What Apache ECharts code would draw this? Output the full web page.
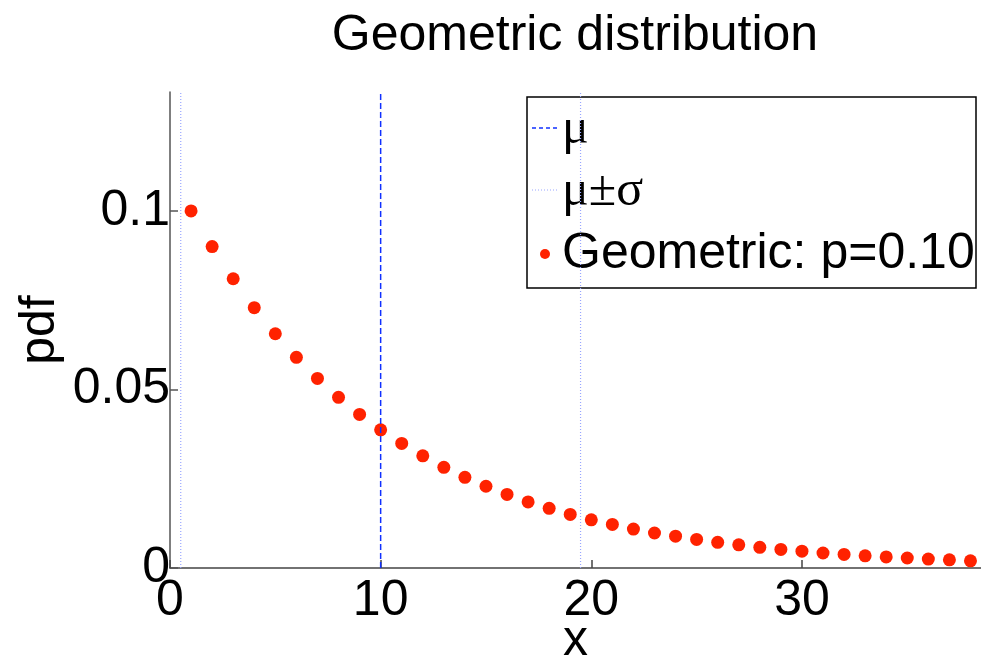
<!DOCTYPE html>
<html>
<head>
<meta charset="utf-8">
<script src="https://cdn.jsdelivr.net/npm/echarts@6/dist/echarts.min.js"></script>
<style>html,body{margin:0;padding:0;background:#fff}#c{width:981px;height:656px}</style>
</head>
<body>
<div id="c"></div>
<script>
// ---- data ----
const xValues = [1,2,3,4,5,6,7,8,9,10,11,12,13,14,15,16,17,18,19,20,21,22,23,24,25,26,27,28,29,30,31,32,33,34,35,36,37,38];
const pdfValues = [0.1000,0.0900,0.0810,0.0729,0.0656,0.0590,0.0531,0.0478,0.0430,0.0387,
  0.0349,0.0314,0.0282,0.0254,0.0229,0.0206,0.0185,0.0167,0.0150,0.0135,
  0.0122,0.0109,0.0098,0.0089,0.0080,0.0072,0.0065,0.0058,0.0052,0.0047,
  0.0042,0.0038,0.0034,0.0031,0.0028,0.0025,0.0023,0.0020];
const muValue = 10;
const sigmaValue = 9.49;
const xTicks = [0, 10, 20, 30];
const yTicks = [0, 0.05, 0.1];
const xLimits = [0, 38.5];
const yLimits = [0, 0.1333];
const titleText = 'Geometric distribution';
const legendLabels = ['μ', 'μ±σ', 'Geometric: p=0.10'];

const sans = 'Liberation Sans';
const FS = 50;
const chart = echarts.init(document.getElementById('c'), null, {renderer: 'canvas'});

function vline(x) { return [[x, yLimits[0]], [x, yLimits[1]]]; }

const option = {
  backgroundColor: '#ffffff',
  animation: false,
  grid: {left: 170, right: 0, top: 92, bottom: 88, containLabel: false, outerBoundsMode: 'none'},
  xAxis: {
    type: 'value', min: xLimits[0], max: xLimits[1], interval: xTicks[1] - xTicks[0],
    name: 'x', nameLocation: 'middle', nameGap: 48, nameMoveOverlap: false,
    nameTextStyle: {fontFamily: sans, fontSize: FS, color: '#000'},
    axisLine: {show: true, onZero: false, lineStyle: {color: '#444', width: 1.5}},
    axisTick: {show: true, inside: true, length: 8, lineStyle: {color: '#444', width: 1.5}},
    axisLabel: {fontFamily: sans, fontSize: FS, color: '#000', margin: 8, showMaxLabel: false,
      formatter: v => xTicks.indexOf(v) >= 0 ? String(v) : ''},
    splitLine: {show: false}
  },
  yAxis: {
    type: 'value', min: yLimits[0], max: yLimits[1], interval: yTicks[1] - yTicks[0],
    name: 'pdf', nameLocation: 'middle', nameGap: 105, nameRotate: 90, nameMoveOverlap: false,
    nameTextStyle: {fontFamily: sans, fontSize: FS, color: '#000'},
    axisLine: {show: true, onZero: false, lineStyle: {color: '#555', width: 1.5}},
    axisTick: {show: true, inside: true, length: 8, lineStyle: {color: '#555', width: 1.5}},
    axisLabel: {fontFamily: sans, fontSize: FS, color: '#000', margin: 0, showMaxLabel: false,
      formatter: v => {
        const hit = yTicks.find(t => Math.abs(t - v) < 1e-9);
        return hit === undefined ? '' : String(hit);
      }},
    splitLine: {show: false}
  },
  series: [
    {name: legendLabels[0], type: 'line', data: vline(muValue), symbol: 'none', silent: true,
      lineStyle: {color: '#1030ff', width: 1.5, type: [6, 3]}},
    {name: legendLabels[1], type: 'line', data: vline(muValue - sigmaValue), symbol: 'none', silent: true,
      lineStyle: {color: '#99a6ff', width: 1.2, type: [1, 2]}},
    {name: legendLabels[1] + ' ', type: 'line', data: vline(muValue + sigmaValue), symbol: 'none', silent: true,
      lineStyle: {color: '#99a6ff', width: 1.2, type: [1, 2]}},
    {name: legendLabels[2], type: 'scatter', symbol: 'circle', symbolSize: 13,
      itemStyle: {color: '#ff2200', opacity: 1},
      data: xValues.map((x, i) => [x, pdfValues[i]])}
  ],
  graphic: [
    {type: 'text', x: 575, y: 36, z: 10,
      style: {text: titleText, x: 0, y: 0, align: 'center', verticalAlign: 'middle', fontFamily: sans, fontSize: FS, fill: '#000'}},
    {type: 'group', x: 527, y: 97, z: 20, children: [
      {type: 'rect', shape: {x: 0, y: 0, width: 449, height: 191},
        style: {fill: '#fff', stroke: '#000', lineWidth: 1.5}},
      {type: 'line', shape: {x1: 5, y1: 31, x2: 30, y2: 31},
        style: {stroke: '#1030ff', lineWidth: 1.5, lineDash: [4, 3]}},
      {type: 'text', style: {x: 35, y: 33, text: legendLabels[0], verticalAlign: 'middle',
        fontFamily: 'Liberation Serif', fontSize: FS, fill: '#000'}},
      {type: 'line', shape: {x1: 5, y1: 93, x2: 30, y2: 93},
        style: {stroke: '#99a6ff', lineWidth: 1.2, lineDash: [1, 2]}},
      {type: 'text', style: {x: 35, y: 95, text: legendLabels[1], verticalAlign: 'middle',
        fontFamily: 'Liberation Serif', fontSize: FS, fill: '#000'}},
      {type: 'circle', shape: {cx: 18, cy: 157, r: 5}, style: {fill: '#ff2200'}},
      {type: 'text', style: {x: 35, y: 157, text: legendLabels[2], verticalAlign: 'middle',
        fontFamily: sans, fontSize: FS, fill: '#000'}}
    ]}
  ]
};
chart.setOption(option);
</script>
</body>
</html>
